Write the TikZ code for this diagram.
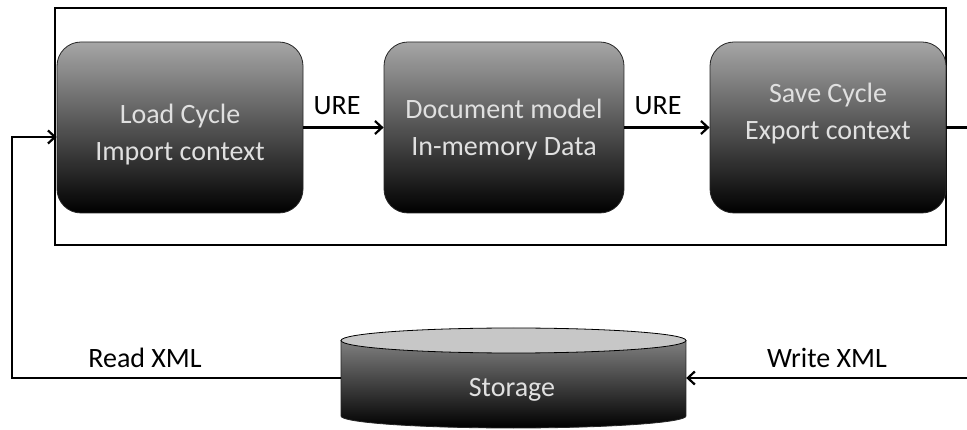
\documentclass[tikz,border=0pt]{standalone}
\usepackage{fontspec}
\setmainfont{Carlito}
\usetikzlibrary{arrows.meta}
\begin{document}
\begin{tikzpicture}[x=1pt,y=-1pt,
  stage/.style={rectangle, rounded corners=24pt, draw=black!85, line width=0.8pt,
    top color=black!35, bottom color=black, minimum height=171pt, inner sep=0pt},
  stagetext/.style={text=black!12, align=center, font=\fontsize{28}{37}\selectfont},
  lbl/.style={anchor=base, font=\fontsize{28}{32}\selectfont},
  wire/.style={line width=2.2pt},
  flow/.style={wire, -{Straight Barb[length=7pt,width=13pt]}}
]
\useasboundingbox (0,0) rectangle (967,430);
\fill[white] (0,0) rectangle (967,430);

% enclosing frame of the processing stages
\node[draw, line width=2.2pt, minimum width=891pt, minimum height=237pt, inner sep=0pt]
  (frame) at (500.5,126.5) {};

% processing stages
\node[stage, minimum width=246pt] (load)  at (180,127.5) {};
\node[stage, minimum width=240pt] (model) at (504,127.5) {};
\node[stage, minimum width=236pt] (save)  at (828,127.5) {};
\node[stagetext] (tload)  at (180,135) {Load Cycle\\Import context};
\node[stagetext] (tmodel) at (504,130) {Document model\\In-memory Data};
\node[stagetext] (tsave)  at (828,114) {Save Cycle\\Export context};

% storage cylinder
\node[minimum width=345pt, minimum height=100pt, inner sep=0pt] (store) at (513.5,378) {};
\shade[top color=black!50, bottom color=black, draw=black!85, line width=0.8pt]
  (341,340.5) -- (341,416) arc[start angle=180, end angle=0, x radius=172.5, y radius=12]
  -- (686,340.5) -- cycle;
\draw[fill=black!22, line width=0.8pt] (513.5,340.5) ellipse[x radius=172.5, y radius=12.5];
\node[lbl, text=black!12] (tstore) at (512,396) {Storage};

% connectors
\coordinate (outR) at (967,127.5);
\coordinate (inR) at (967,378);
\coordinate (cornerBL) at (12,378);
\coordinate (cornerTL) at (12,137);
\draw[flow] (load.east) -- (model.west);
\draw[flow] (model.east) -- (save.west);
\draw[wire] (save.east) -- (outR);
\draw[flow] (inR) -- (store.east);
\draw[flow] (store.west) -- (cornerBL) -- (cornerTL) -- (cornerTL -| load.west);

% connector labels
\node[lbl] (ure1) at (337,115) {URE};
\node[lbl] (ure2) at (658,115) {URE};
\node[lbl] (read) at (145,367) {Read XML};
\node[lbl] (write) at (827,367) {Write XML};
\end{tikzpicture}
\end{document}
